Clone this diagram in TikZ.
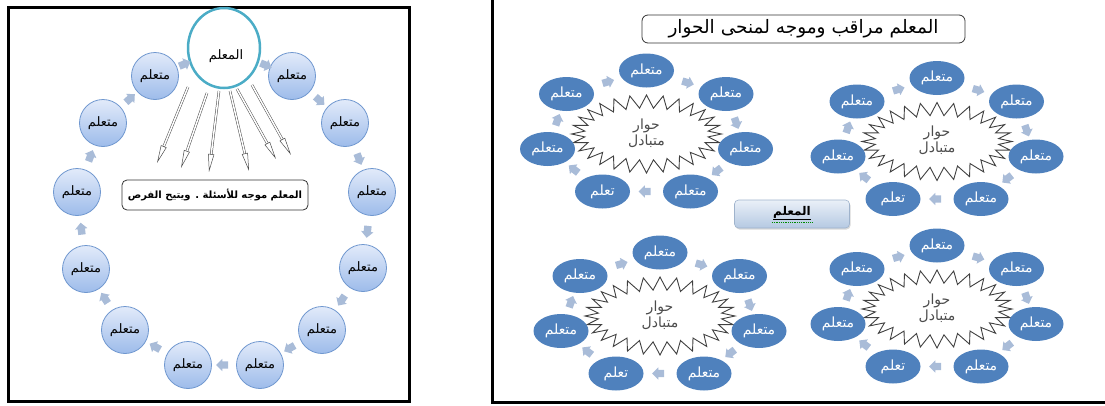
\documentclass[tikz,border=0pt]{standalone}
\usepackage{fontspec}
\usetikzlibrary{shapes.geometric,shapes.arrows,arrows.meta,shadows,calc}
\newfontfamily\arabicfont[Script=Arabic]{DejaVu Sans}
\TeXXeTstate=1
\definecolor{circtop}{HTML}{E2EBFA}
\definecolor{circbot}{HTML}{9DBBEA}
\definecolor{circedge}{HTML}{6F97CF}
\definecolor{teal1}{HTML}{4BACC6}
\definecolor{flowc}{HTML}{A9BCD8}
\definecolor{ellc}{HTML}{4F81BD}
\definecolor{boxtop}{HTML}{EAF0F8}
\definecolor{boxbot}{HTML}{B5C9E2}
\definecolor{boxedge}{HTML}{9FB3CC}
\tikzset{
 learnerc/.style={circle, minimum size=47pt, inner sep=0pt, draw=circedge, line width=0.8pt, top color=circtop, bottom color=circbot, font=\arabicfont\fontsize{13}{15}\selectfont},
 teacherc/.style={ellipse, minimum width=72pt, minimum height=80pt, inner sep=0pt, draw=teal1, line width=2.5pt, fill=white},
 flowarr/.style={single arrow, fill=flowc, draw=none, minimum height=12pt, inner sep=3.5pt, single arrow head extend=2.5pt, sloped, allow upside down},
 pointer/.style={draw=black!70, line width=0.5pt, double=white, double distance=1.5pt, -{Triangle[open, length=18pt, width=6pt]}},
 learnere/.style={ellipse, minimum width=55pt, minimum height=34pt, inner sep=0pt, fill=ellc, text=white, font=\arabicfont\fontsize{14}{16}\selectfont},
 zig/.style={draw=black!75, line width=0.9pt, fill=white, line join=miter},
 startext/.style={align=center, text=black!70, font=\arabicfont\fontsize{14}{16}\selectfont},
 notebox/.style={rounded corners=5pt, draw=black!80, line width=0.8pt, fill=white},
 midbox/.style={rounded corners=4pt, minimum width=115pt, minimum height=28pt, top color=boxtop, bottom color=boxbot, draw=boxedge, line width=0.6pt, drop shadow={shadow xshift=1pt, shadow yshift=-1.5pt, opacity=0.3}},
}
\newcommand\zigstar[4]{%
  \draw[zig] plot[samples at={0,...,55}, variable=\k] ({#1+(#3-13*mod(\k,2))*cos(\k*45/7)},{#2+(#4-13*mod(\k,2))*sin(\k*45/7)}) -- cycle;}
\newcommand\dialog[3]{%
\begin{scope}[shift={(#2,#3)}]
 \zigstar{0}{-15}{75}{39}
 \node[startext] (#1s) at (0,-16) {\beginR حوار\endR\\\beginR متبادل\endR};
 \node[learnere] (#1a) at (0,-78.5) {\beginR متعلم\endR};
 \node[learnere] (#1b) at (79.5,-55) {\beginR متعلم\endR};
 \node[learnere] (#1c) at (99,0) {\beginR متعلم\endR};
 \node[learnere] (#1d) at (44,42.5) {\beginR متعلم\endR};
 \node[learnere] (#1e) at (-44,42.5) {\beginR تعلم\endR};
 \node[learnere] (#1f) at (-99,0) {\beginR متعلم\endR};
 \node[learnere] (#1g) at (-80,-55) {\beginR متعلم\endR};
 \foreach \u/\v in {a/b,b/c,c/d,d/e,e/f,f/g,g/a} \path (#1\u) -- node[flowarr]{} (#1\v);
\end{scope}}
\begin{document}
\begin{tikzpicture}[x=1pt,y=-1pt]
\useasboundingbox (0,0) rectangle (1105,405);
% frames
\draw[line width=3pt] (8,7) rectangle (409,401.5);
\draw[line width=3pt] (492,0) -- (492,402) -- (1105,402);
% left panel
\node[teacherc] (T) at (224,48) {};
\node[font=\arabicfont\fontsize{13}{15}\selectfont] (Tl) at (226,56) {\beginR المعلم\endR};
\foreach \n/\x/\y in {R1/292/76, R2/345/123, R3/372/192, R4/363/268, R5/322/330, R6/260/365,
                      L6/188/365, L5/125/330, L4/86/269, L3/77/192, L2/103/123, L1/155/76}
  \node[learnerc] (\n) at (\x,\y) {\beginR متعلم\endR};
\foreach \u/\v in {T/R1, R1/R2, R2/R3, R3/R4, R4/R5, R5/R6, R6/L6, L6/L5, L5/L4, L4/L3, L3/L2, L2/L1, L1/T}
  \path (\u) -- node[flowarr]{} (\v);
\foreach \i/\sx/\sy/\ex/\ey in {1/188/87/157/163, 2/207/93/181/168, 3/219/91/209/172, 4/230/91/249/171, 5/237/89/276/159, 6/252/85/291/155} {
  \coordinate (s\i) at (\sx,\sy);
  \coordinate (e\i) at (\ex,\ey);
  \draw[pointer] (s\i) -- (e\i);
}
\node[notebox, minimum width=186pt, minimum height=30pt, font=\arabicfont\bfseries\fontsize{10}{12}\selectfont] (B) at (215,195) {\beginR المعلم موجه للأسئلة . ويتيح الفرص\endR};
% right panel
\node[notebox, rounded corners=6pt, minimum width=323pt, minimum height=28pt, font=\arabicfont\fontsize{18.5}{20}\selectfont] (H) at (803.5,29) {\beginR المعلم مراقب وموجه لمنحى الحوار\endR};
\node[midbox] (M) at (792,214) {};
\node[inner sep=1pt, font=\arabicfont\bfseries\fontsize{12}{14}\selectfont] (Mt) at (792,213) {$\underline{\hbox{\beginR المعلم\endR}}$};
\draw[green!55!black, densely dotted, line width=0.8pt] ([yshift=-1pt]Mt.south west) -- ([yshift=-1pt]Mt.south east);
\dialog{p}{646.5}{149}
\dialog{q}{937}{156.5}
\dialog{r}{660}{331}
\dialog{w}{937}{324}
\end{tikzpicture}
\end{document}
